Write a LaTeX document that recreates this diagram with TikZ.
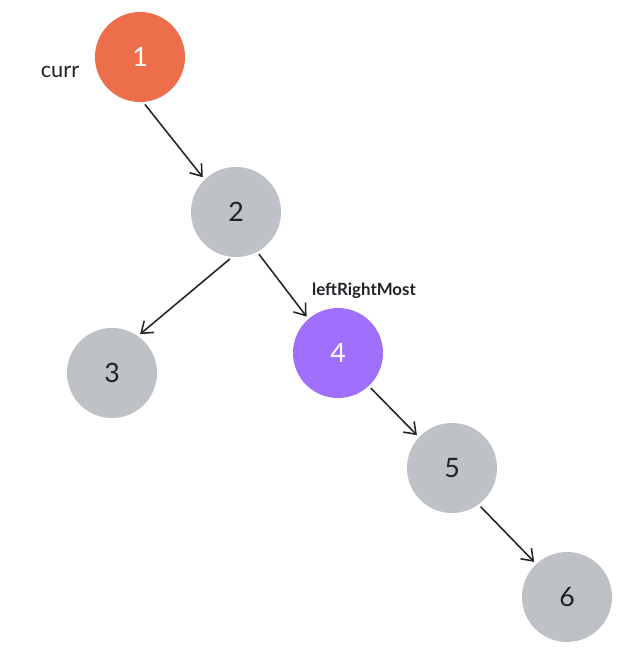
\documentclass[tikz,border=0pt]{standalone}
\usepackage{fontspec}
\setmainfont{Lato}
\usetikzlibrary{arrows.meta}
\definecolor{nodegray}{HTML}{BEC1C6}
\definecolor{currorange}{HTML}{EC6E4A}
\definecolor{lrmpurple}{HTML}{9E70FB}
\definecolor{inkdark}{HTML}{1F2328}
\tikzset{
    treenode/.style={circle, fill=nodegray, minimum size=2.25cm, inner sep=0pt,
        text=inkdark, font=\fontsize{19}{22}\selectfont},
    hotnode/.style={treenode, text=white},
    ptr/.style={-{Straight Barb[length=2.6mm, width=3.8mm]}, line width=1.1pt, draw=inkdark,
        shorten <=2pt, shorten >=2pt}
}
\begin{document}
\begin{tikzpicture}[x=0.025cm, y=-0.025cm]
        \useasboundingbox (0, 0) rectangle (636, 660);

        \node[hotnode, fill=currorange] (n1) at (140, 57) {1};
        \node[treenode] (n2) at (236, 212) {2};
        \node[treenode] (n3) at (112, 373) {3};
        \node[hotnode, fill=lrmpurple] (n4) at (338, 353) {4};
        \node[treenode] (n5) at (452, 468) {5};
        \node[treenode] (n6) at (567, 597) {6};

        \node[text=inkdark, font=\fontsize{15.5}{18}\selectfont] (curr) at (60, 72) {curr};
        \node[text=inkdark, font=\bfseries\fontsize{12}{14}\selectfont] (lrm) at (364, 291) {leftRightMost};

        \draw[ptr] (n1.-86) -- (n2.134);
        \draw[ptr] (n2.-95) -- (n3.55);
        \draw[ptr] (n2.-62) -- (n4.131);
        \draw[ptr] (n4.-47) -- (n5.137);
        \draw[ptr] (n5.-54) -- (n6.133);
    \end{tikzpicture}
\end{document}
